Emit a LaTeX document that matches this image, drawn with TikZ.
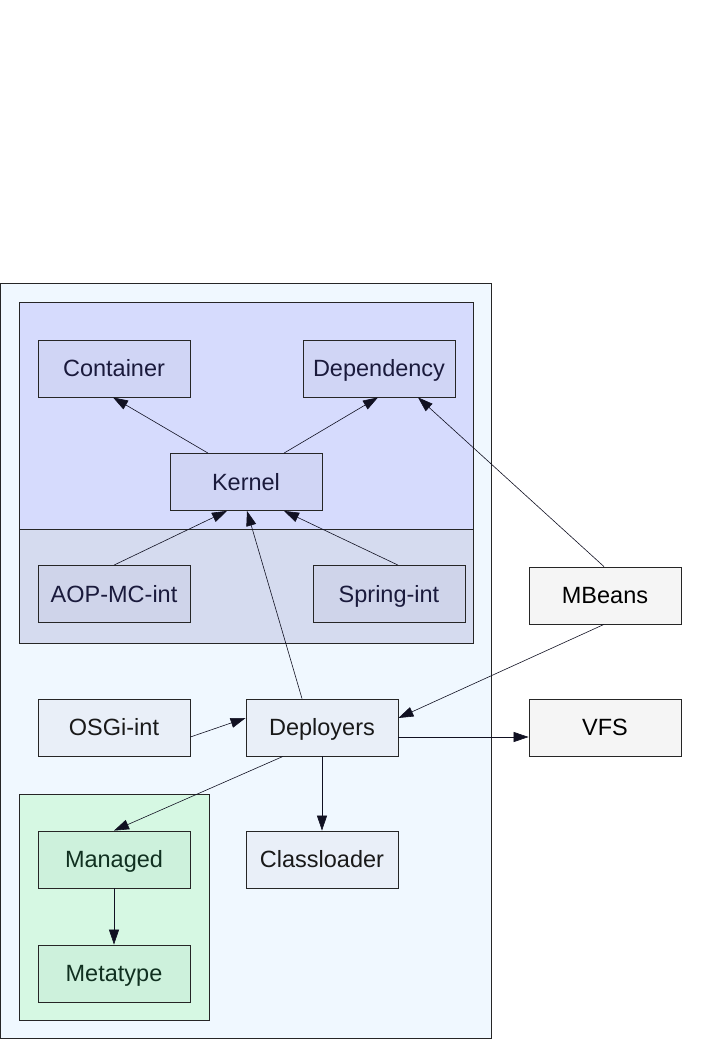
\documentclass[tikz,border=0pt]{standalone}
\usepackage{fontspec}
\setmainfont{Liberation Sans}
\usetikzlibrary{arrows.meta}
\definecolor{outerfill}{HTML}{F0F8FF}
\definecolor{bluecl}{HTML}{D6DBFD}
\definecolor{bluenode}{HTML}{D0D5F5}
\definecolor{grayband}{HTML}{D5DBEF}
\definecolor{graynode}{HTML}{CFD4EA}
\definecolor{greencl}{HTML}{D6F8E3}
\definecolor{greennode}{HTML}{CDF1DC}
\definecolor{plainnode}{HTML}{E9EFF8}
\definecolor{extnode}{HTML}{F5F5F5}
\definecolor{navytext}{HTML}{1A1A3C}
\definecolor{greentext}{HTML}{103020}
\definecolor{edgecol}{HTML}{111122}
\tikzset{
  box/.style={draw=black!85, line width=0.8pt, rectangle, minimum width=152pt, minimum height=57pt, inner sep=0pt,
    font=\fontsize{23.5}{28}\selectfont, text height=16.8pt, text depth=0pt},
  bluebox/.style={box, fill=bluenode, text=navytext},
  graybox/.style={box, fill=graynode, text=navytext},
  greenbox/.style={box, fill=greennode, text=greentext},
  plainbox/.style={box, fill=plainnode, text=black!90},
  extbox/.style={box, fill=extnode, text=black},
  edge/.style={draw=edgecol, line width=0.6pt, -{Triangle[length=15pt,width=10pt]}},
  cluster/.style={draw=black!85, line width=0.8pt}
}
\begin{document}
\begin{tikzpicture}[x=1pt,y=-1pt]
\useasboundingbox (0,0) rectangle (718,1047);
% clusters
\draw[cluster, fill=outerfill, line width=1pt] (0.5,283) rectangle (491,1038);
\draw[cluster, fill=bluecl] (19,302) rectangle (473,529);
\draw[cluster, fill=grayband] (19,529) rectangle (473,643);
\draw[cluster, fill=greencl] (19,794) rectangle (209,1020);
% nodes
\node[bluebox] (container) at (114,368.5) {Container};
\node[bluebox] (dependency) at (379,368.5) {Dependency};
\node[bluebox] (kernel) at (246,482) {Kernel};
\node[graybox] (aop) at (114,594) {AOP-MC-int};
\node[graybox] (spring) at (389,594) {Spring-int};
\node[extbox] (mbeans) at (605,595.5) {MBeans};
\node[plainbox] (osgi) at (114,727.5) {OSGi-int};
\node[plainbox] (deployers) at (322,727.5) {Deployers};
\node[extbox] (vfs) at (605,727.5) {VFS};
\node[greenbox] (managed) at (114,859.5) {Managed};
\node[plainbox] (classloader) at (322,859.5) {Classloader};
\node[greenbox] (metatype) at (114,973.5) {Metatype};
% edges
\draw[edge] ([xshift=-38pt]kernel.north) -- ([xshift=-1pt]container.south);
\draw[edge] ([xshift=38pt]kernel.north) -- ([xshift=-1pt]dependency.south);
\draw[edge] (aop.north) -- ([xshift=-19pt]kernel.south);
\draw[edge] ([xshift=9pt]spring.north) -- ([xshift=38pt]kernel.south);
\draw[edge] ([xshift=-20pt]deployers.north) -- ([xshift=1pt]kernel.south);
\draw[edge] ([xshift=-1pt]mbeans.north) -- ([xshift=39pt]dependency.south);
\draw[edge] ([xshift=-1pt]mbeans.south) -- ([yshift=9.5pt]deployers.east);
\draw[edge] ([yshift=-9.5pt]osgi.east) -- ([yshift=9.5pt]deployers.west);
\draw[edge] ([yshift=-9.5pt]deployers.east) -- ([yshift=-9.5pt]vfs.west);
\draw[edge] (deployers.south) -- (classloader.north);
\draw[edge] ([xshift=-39pt]deployers.south) -- (managed.north);
\draw[edge] (managed.south) -- (metatype.north);
\end{tikzpicture}
\end{document}
